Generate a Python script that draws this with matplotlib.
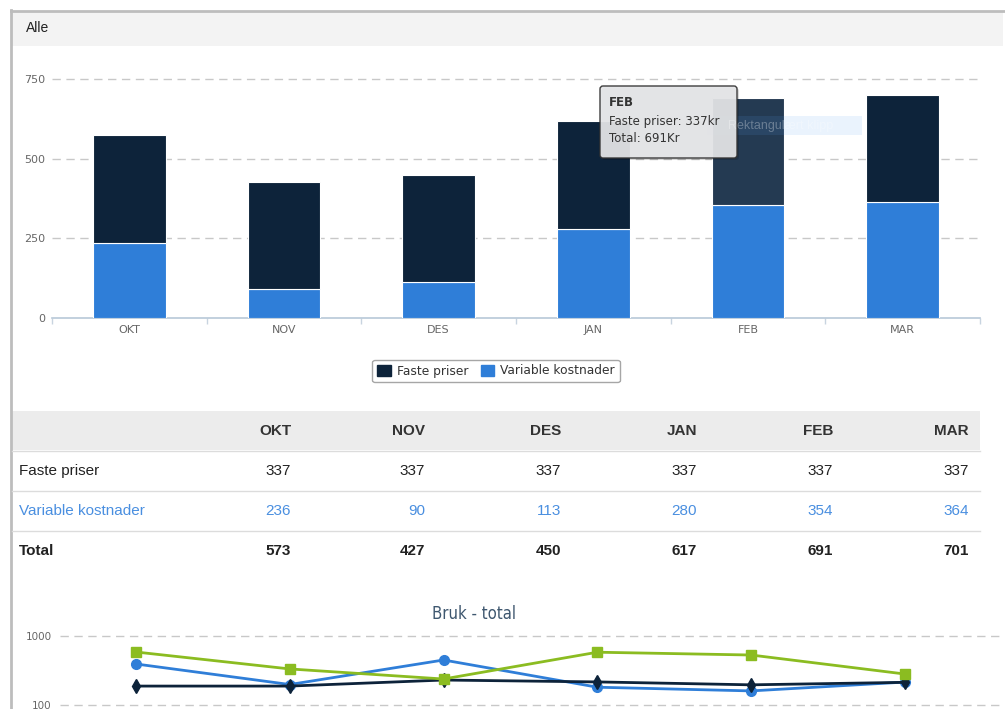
import matplotlib
matplotlib.use('Agg')
import matplotlib.pyplot as plt
import numpy as np
from matplotlib.patches import Rectangle, FancyBboxPatch, Patch

W, H = 1005, 709

months = ['OKT', 'NOV', 'DES', 'JAN', 'FEB', 'MAR']
faste = [337, 337, 337, 337, 337, 337]
variable = [236, 90, 113, 280, 354, 364]
hover_idx = 4  # FEB is under the mouse

# Bruk - total (log scale)
bruk_green = [586, 333, 238, 582, 530, 281]
bruk_blue = [393, 198, 449, 181, 160, 215]
bruk_dark = [188, 188, 230, 216, 196, 213]

c_faste = '#0d233a'
c_faste_hover = '#243a52'
c_var = '#2f7ed8'
c_green = '#8bbc21'
c_grid = '#c8c8c8'
c_label = '#666666'


def rect(x0, y0, x1, y1):
    # pixel box (top-left origin) -> figure fraction
    return [x0 / W, 1 - y1 / H, (x1 - x0) / W, (y1 - y0) / H]


plt.rcParams['font.family'] = ['DejaVu Sans']
fig = plt.figure(figsize=(W / 100, H / 100), dpi=100)
fig.patch.set_facecolor('white')

# ---- main stacked column chart ----
ax = fig.add_axes(rect(52, 60, 980, 318))
x = np.arange(len(months))
bw = 0.47
ax.bar(x, variable, bw, color=c_var, edgecolor='white', linewidth=0.8, zorder=3)
top_colors = [c_faste_hover if i == hover_idx else c_faste for i in range(len(months))]
ax.bar(x, faste, bw, bottom=variable, color=top_colors, edgecolor='white',
       linewidth=0.8, zorder=3)
ax.set_xlim(-0.5, len(months) - 0.5)
ax.set_ylim(0, 809.6)
for v in [250, 500, 750]:
    ax.axhline(v, color=c_grid, linestyle=(0, (6, 4)), linewidth=1, zorder=1)
for s in ['top', 'right', 'left']:
    ax.spines[s].set_visible(False)
ax.spines['bottom'].set_color('#b8c8d8')
ax.spines['bottom'].set_linewidth(1.2)
ax.set_yticks([0, 250, 500, 750])
ax.set_yticklabels(['0', '250', '500', '750'], fontsize=8, color=c_label)
ax.tick_params(axis='y', length=0, pad=5)
ax.set_xticks(np.arange(-0.5, len(months)))
ax.set_xticklabels([])
ax.tick_params(axis='x', which='major', length=4, color='#c8d4e0', width=1)
ax.set_xticks(x, minor=True)
ax.set_xticklabels(months, minor=True, fontsize=8, color=c_label)
ax.tick_params(axis='x', which='minor', length=0, pad=5)

fig.legend(handles=[Patch(color=c_faste, label='Faste priser'),
                    Patch(color=c_var, label='Variable kostnader')],
           loc='center', bbox_to_anchor=(496 / W, 1 - 371 / H), ncol=2,
           fontsize=8.8, frameon=True, fancybox=True, edgecolor='#909090',
           handlelength=1.1, handleheight=1.0, handletextpad=0.5,
           columnspacing=1.0, borderpad=0.4, labelcolor='#333333')

# ---- Bruk - total line chart ----
ax2 = fig.add_axes(rect(60, 625, 1000, 709))
ax2.set_yscale('log')
ax2.plot(x, bruk_blue, color=c_var, lw=2, marker='o', ms=7, zorder=3)
ax2.plot(x, bruk_dark, color=c_faste, lw=2, marker='d', ms=7, zorder=4)
ax2.plot(x, bruk_green, color=c_green, lw=2, marker='s', ms=7, zorder=5)
ax2.set_xlim(-0.494, 5.618)
ax2.set_ylim(87.5, 1443)
for v in [100, 1000]:
    ax2.axhline(v, color=c_grid, linestyle=(0, (6, 4)), linewidth=1, zorder=1)
for s in ax2.spines.values():
    s.set_visible(False)
ax2.set_xticks([])
ax2.yaxis.set_minor_locator(matplotlib.ticker.NullLocator())
ax2.set_yticks([100, 1000])
ax2.set_yticklabels(['100', '1000'], fontsize=7.5, color=c_label)
ax2.tick_params(axis='y', length=0, pad=6)

# ---- overlay: frame, header, table, tooltip ----
ov = fig.add_axes([0, 0, 1, 1], zorder=10)
ov.set_xlim(0, W)
ov.set_ylim(H, 0)
ov.axis('off')

ov.plot([11, 11], [10, H], color='#bdbdbd', lw=2)
ov.plot([11, W], [11, 11], color='#bdbdbd', lw=2)
ov.add_patch(Rectangle((12, 12), 991, 34, facecolor='#f3f3f3', edgecolor='none'))
ov.text(26, 28, 'Alle', fontsize=10, color='#222222', va='center',
        family='Liberation Sans')

# snipping tool artefact
ov.add_patch(Rectangle((707, 116), 155, 19, facecolor='#5aa0f0', alpha=0.12,
                       edgecolor='none'))
ov.text(728, 126, 'Rektangulært klipp', fontsize=9, color='white', alpha=0.3,
        va='center', family='Liberation Sans')

# tooltip
ov.add_patch(FancyBboxPatch((602, 88), 137, 72, boxstyle='round,pad=0,rounding_size=3',
                            facecolor='black', alpha=0.15, edgecolor='none'))
ov.add_patch(FancyBboxPatch((600, 86), 137, 72, boxstyle='round,pad=0,rounding_size=3',
                            facecolor='#e4e5e7', alpha=0.94, edgecolor='#333333',
                            linewidth=1))
ov.text(609, 103, months[hover_idx], fontsize=8.5, fontweight='bold', color='#333333',
        va='center')
ov.text(609, 121, f'Faste priser: {faste[hover_idx]}kr', fontsize=8.5,
        color='#333333', va='center')
ov.text(609, 138, f'Total: {faste[hover_idx] + variable[hover_idx]}Kr', fontsize=8.5,
        color='#333333', va='center')

# table
tf = 'Liberation Sans'
ov.add_patch(Rectangle((12, 411), 968, 39, facecolor='#ececec', edgecolor='none'))
for yl in [451, 491, 531]:
    ov.plot([12, 980], [yl, yl], color='#dcdcdc', lw=1)
col_right = [291, 425, 561, 697, 833, 969]
totals = [f + v for f, v in zip(faste, variable)]
rows = [('Faste priser', faste, '#222222', 'normal', 471),
        ('Variable kostnader', variable, '#4a8fe0', 'normal', 511),
        ('Total', totals, '#222222', 'bold', 551)]
for m, xr in zip(months, col_right):
    ov.text(xr, 431, m, ha='right', va='center', fontsize=11, fontweight='bold',
            color='#333333', family=tf)
for label, vals, col, fw, yr in rows:
    ov.text(19, yr, label, ha='left', va='center', fontsize=11, color=col,
            fontweight=fw, family=tf)
    for v, xr in zip(vals, col_right):
        ov.text(xr, yr, str(v), ha='right', va='center', fontsize=11, color=col,
                fontweight=fw, family=tf)

ov.text(474, 614, 'Bruk - total', ha='center', va='center', fontsize=12,
        color='#3e576f', fontstretch='condensed')

fig.savefig('out.png', dpi=100)
